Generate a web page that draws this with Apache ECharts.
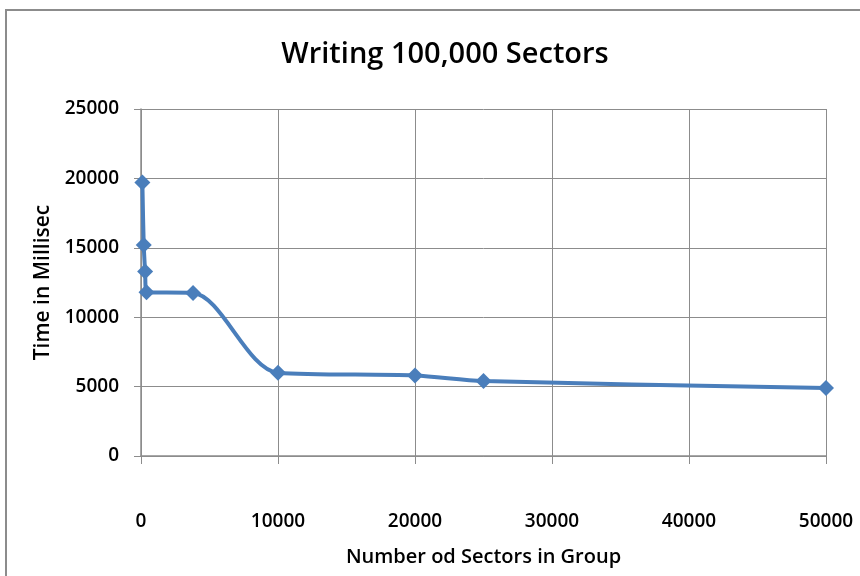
<!DOCTYPE html>
<html>
<head>
<meta charset="utf-8">
<script src="https://cdn.jsdelivr.net/npm/echarts@6/dist/echarts.min.js"></script>
<style>
  html, body { margin: 0; padding: 0; background: #fff; }
  #main { width: 860px; height: 576px; }
</style>
</head>
<body>
<div id="main"></div>
<script>
// 数据
let sectors = [100, 200, 300, 400, 3800, 10000, 20000, 25000, 50000];
let millis = [19700, 15200, 13300, 11800, 11750, 6000, 5800, 5400, 4900];

let chart = echarts.init(document.getElementById('main'));
let font = 'Open Sans';

let points = [];
for (let i = 0; i < sectors.length; i++) {
    points.push([sectors[i], millis[i]]);
}

let option = {
    backgroundColor: '#fff',
    animation: false,
    title: {
        text: 'Writing 100,000 Sectors',
        left: 440,
        top: 35,
        textAlign: 'center',
        textStyle: { fontFamily: font, fontSize: 29, fontWeight: 600, color: '#000' }
    },
    graphic: [{
        type: 'rect',
        shape: { x: 6, y: 10, width: 900, height: 600 },
        style: { fill: 'none', stroke: '#8c8c8c', lineWidth: 2 }
    }],
    grid: { left: 141, right: 34, top: 109, bottom: 120 },
    xAxis: {
        type: 'value',
        min: 0, max: 50000, interval: 10000,
        name: 'Number od Sectors in Group',
        nameLocation: 'middle',
        nameGap: 91,
        nameTextStyle: { fontFamily: font, fontSize: 20, fontWeight: 600, color: '#000' },
        axisLine: { show: true, lineStyle: { color: '#8c8c8c', width: 1.5 } },
        axisTick: { show: true, inside: false, length: 8, lineStyle: { color: '#8c8c8c' } },
        axisLabel: {
            margin: 56, fontFamily: font, fontSize: 19, fontWeight: 600, color: '#000',
            formatter: function (v) { return String(v); }
        },
        splitLine: { show: true, lineStyle: { color: '#8c8c8c', width: 1 } }
    },
    yAxis: {
        type: 'value',
        min: 0, max: 25000, interval: 5000,
        name: 'Time in Millisec',
        nameLocation: 'middle',
        nameGap: 86,
        nameTextStyle: { fontFamily: font, fontSize: 21, fontWeight: 600, color: '#000' },
        axisLine: { show: true, lineStyle: { color: '#8c8c8c', width: 1.5 } },
        axisTick: { show: true, length: 7, lineStyle: { color: '#8c8c8c' } },
        axisLabel: {
            margin: 22, fontFamily: font, fontSize: 19, fontWeight: 600, color: '#000',
            formatter: function (v) { return String(v); }
        },
        splitLine: { show: true, lineStyle: { color: '#8c8c8c', width: 1 } }
    },
    series: [{
        type: 'line',
        data: points,
        smooth: 0.3,
        symbol: 'diamond',
        symbolSize: 16,
        lineStyle: { color: '#4a7ebb', width: 4 },
        itemStyle: { color: '#4a7ebb' }
    }]
};

chart.setOption(option);
</script>
</body>
</html>
